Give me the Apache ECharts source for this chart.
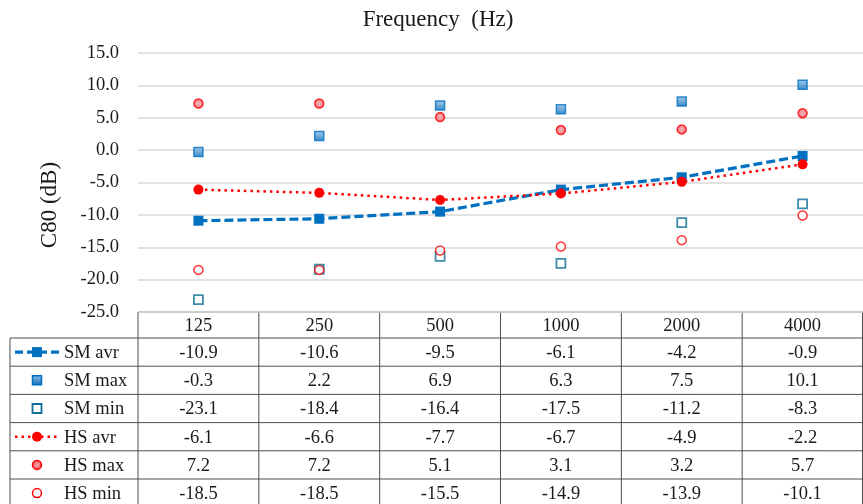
<!DOCTYPE html>
<html>
<head>
<meta charset="utf-8">
<script src="https://cdn.jsdelivr.net/npm/echarts@6/dist/echarts.min.js"></script>
<style>
  html, body { margin: 0; padding: 0; background: #ffffff; }
  #chart { width: 863px; height: 504px; }
</style>
</head>
<body>
<div id="chart"></div>
<script>
// Octave-band centre frequencies (Hz)
const categories = ['125', '250', '500', '1000', '2000', '4000'];

// C80 clarity values (dB)
const smAvr = [-10.9, -10.6, -9.5, -6.1, -4.2, -0.9];
const smMax = [-0.3, 2.2, 6.9, 6.3, 7.5, 10.1];
const smMin = [-23.1, -18.4, -16.4, -17.5, -11.2, -8.3];
const hsAvr = [-6.1, -6.6, -7.7, -6.7, -4.9, -2.2];
const hsMax = [7.2, 7.2, 5.1, 3.1, 3.2, 5.7];
const hsMin = [-18.5, -18.5, -15.5, -14.9, -13.9, -10.1];

// Value axis range and step
const yMin = -25;
const yMax = 15;
const yStep = 5;

const FONT = '"Liberation Serif", "Times New Roman", serif';
const TEXT = '#1a1a1a';
const BLUE = '#0070C0';
const TEAL = '#0E6F96';
const RED = '#FF0000';

// Plot-area box; the data table sits directly under it
const plotLeft = 138, plotTop = 53, plotRight = 863, plotBottom = 312;
const colW = (plotRight - plotLeft) / categories.length;
const headerH = 26;
const rowH = 28.2;
const keyLeft = 10;
const tableLine = '#4d4d4d';
const cellFont = '18.5px ' + FONT;
const titleFont = '23px ' + FONT;

const blueFill = new echarts.graphic.LinearGradient(0, 0, 0, 1, [
  { offset: 0, color: '#8ec0e8' },
  { offset: 1, color: '#0a6cb8' }
]);
const redFill = new echarts.graphic.RadialGradient(0.5, 0.5, 0.6, [
  { offset: 0, color: '#f7a9b0' },
  { offset: 1, color: '#e53945' }
]);

const rows = [
  { name: 'SM avr', values: smAvr, kind: 'smAvr' },
  { name: 'SM max', values: smMax, kind: 'smMax' },
  { name: 'SM min', values: smMin, kind: 'smMin' },
  { name: 'HS avr', values: hsAvr, kind: 'hsAvr' },
  { name: 'HS max', values: hsMax, kind: 'hsMax' },
  { name: 'HS min', values: hsMin, kind: 'hsMin' }
];

function hLine(x1, x2, y) {
  return { type: 'line', silent: true, shape: { x1: x1, y1: y, x2: x2, y2: y },
           style: { stroke: tableLine, lineWidth: 1 } };
}
function vLine(x, y1, y2) {
  return { type: 'line', silent: true, shape: { x1: x, y1: y1, x2: x, y2: y2 },
           style: { stroke: tableLine, lineWidth: 1 } };
}
function cellText(str, x, y, align) {
  return { type: 'text', silent: true, x: x, y: y,
           style: { text: str, font: cellFont, fill: TEXT,
                    align: align || 'center', verticalAlign: 'middle' } };
}

// Legend keys drawn in the first table column
function keySymbol(kind, cx, cy) {
  const els = [];
  const s = 9;
  if (kind === 'smAvr') {
    els.push({ type: 'line', shape: { x1: cx - 22, y1: cy, x2: cx + 22, y2: cy },
               style: { stroke: BLUE, lineWidth: 3.2, lineDash: [8, 4] } });
    els.push({ type: 'rect', shape: { x: cx - 5, y: cy - 5, width: 10, height: 10 },
               style: { fill: BLUE } });
  } else if (kind === 'hsAvr') {
    els.push({ type: 'line', shape: { x1: cx - 22, y1: cy, x2: cx + 22, y2: cy },
               style: { stroke: RED, lineWidth: 2.5, lineDash: [2.5, 4] } });
    els.push({ type: 'circle', shape: { cx: cx, cy: cy, r: 5 }, style: { fill: RED } });
  } else if (kind === 'smMax') {
    els.push({ type: 'rect', shape: { x: cx - s / 2, y: cy - s / 2, width: s, height: s },
               style: { fill: blueFill, stroke: BLUE, lineWidth: 1.5 } });
  } else if (kind === 'smMin') {
    els.push({ type: 'rect', shape: { x: cx - s / 2, y: cy - s / 2, width: s, height: s },
               style: { fill: '#fff', stroke: TEAL, lineWidth: 1.8 } });
  } else if (kind === 'hsMax') {
    els.push({ type: 'circle', shape: { cx: cx, cy: cy, r: 4.5 },
               style: { fill: redFill, stroke: RED, lineWidth: 1.5 } });
  } else if (kind === 'hsMin') {
    els.push({ type: 'circle', shape: { cx: cx, cy: cy, r: 4.5 },
               style: { fill: '#fff', stroke: RED, lineWidth: 1.5 } });
  }
  return els;
}

function buildTable() {
  const g = [];
  const tableBottom = plotBottom + headerH + rowH * rows.length;
  // header row (frequencies)
  g.push(hLine(plotLeft, plotRight, plotBottom));
  categories.forEach(function (c, i) {
    g.push(cellText(c, plotLeft + colW * (i + 0.5), plotBottom + headerH / 2 + 1));
  });
  // body rows
  rows.forEach(function (r, ri) {
    const top = plotBottom + headerH + rowH * ri;
    const mid = top + rowH / 2;
    g.push(hLine(keyLeft, plotRight, top));
    keySymbol(r.kind, 37, mid).forEach(function (e) { e.silent = true; g.push(e); });
    g.push(cellText(r.name, 64, mid + 1, 'left'));
    r.values.forEach(function (v, i) {
      g.push(cellText(v.toFixed(1), plotLeft + colW * (i + 0.5), mid + 1));
    });
  });
  g.push(hLine(keyLeft, plotRight, tableBottom));
  // column separators
  g.push(vLine(keyLeft, plotBottom + headerH, tableBottom));
  for (let i = 0; i <= categories.length; i++) {
    g.push(vLine(Math.min(plotLeft + colW * i, plotRight - 0.5), plotBottom, tableBottom));
  }
  // axis titles
  g.push({ type: 'text', silent: true, x: 438, y: 20,
           style: { text: 'Frequency  (Hz)', font: titleFont, fill: TEXT,
                    align: 'center', verticalAlign: 'middle' } });
  g.push({ type: 'text', silent: true, x: 50, y: 205, rotation: Math.PI / 2,
           style: { text: 'C80 (dB)', font: titleFont, fill: TEXT,
                    align: 'center', verticalAlign: 'middle' } });
  return g;
}

const chart = echarts.init(document.getElementById('chart'), null, { renderer: 'canvas' });

chart.setOption({
  animation: false,
  backgroundColor: '#ffffff',
  grid: { left: plotLeft, top: plotTop, width: plotRight - plotLeft, height: plotBottom - plotTop,
          containLabel: false },
  xAxis: {
    type: 'category',
    data: categories,
    boundaryGap: true,
    axisLine: { show: false },
    axisTick: { show: false },
    axisLabel: { show: false },
    splitLine: { show: false }
  },
  yAxis: {
    type: 'value',
    min: yMin,
    max: yMax,
    interval: yStep,
    axisLine: { show: false },
    axisTick: { show: false },
    axisLabel: { fontFamily: FONT, fontSize: 18.5, color: TEXT, margin: 19,
                 formatter: function (v) { return v.toFixed(1); } },
    splitLine: { lineStyle: { color: '#d9d9d9', width: 1.5 } }
  },
  series: [
    { name: 'SM max', type: 'scatter', data: smMax, symbol: 'rect', symbolSize: 9,
      itemStyle: { color: blueFill, borderColor: BLUE, borderWidth: 1.5 } },
    { name: 'SM min', type: 'scatter', data: smMin, symbol: 'rect', symbolSize: 9,
      itemStyle: { color: '#ffffff', borderColor: TEAL, borderWidth: 1.8 } },
    { name: 'HS max', type: 'scatter', data: hsMax, symbol: 'circle', symbolSize: 9,
      itemStyle: { color: redFill, borderColor: RED, borderWidth: 1.5 } },
    { name: 'HS min', type: 'scatter', data: hsMin, symbol: 'circle', symbolSize: 9,
      itemStyle: { color: '#ffffff', borderColor: RED, borderWidth: 1.5 } },
    { name: 'SM avr', type: 'line', data: smAvr, symbol: 'rect', symbolSize: 10,
      showAllSymbol: true,
      lineStyle: { color: BLUE, width: 3.2, type: [9, 4] },
      itemStyle: { color: BLUE } },
    { name: 'HS avr', type: 'line', data: hsAvr, symbol: 'circle', symbolSize: 10,
      showAllSymbol: true,
      lineStyle: { color: RED, width: 2.5, type: [2.5, 4] },
      itemStyle: { color: RED } }
  ],
  graphic: buildTable()
});
</script>
</body>
</html>
